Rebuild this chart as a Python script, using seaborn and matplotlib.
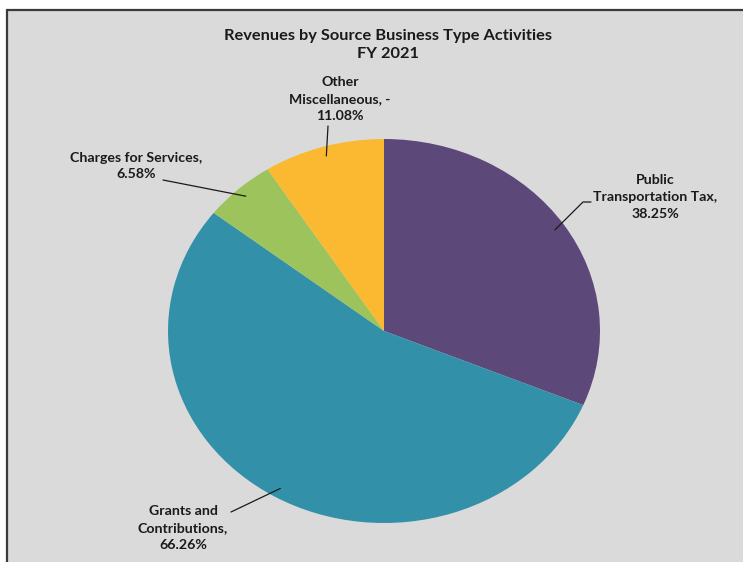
import numpy as np
import matplotlib
matplotlib.use("Agg")
import matplotlib.pyplot as plt
import seaborn as sns
from matplotlib.patches import Rectangle
from matplotlib.lines import Line2D

# Revenue shares by source (percent of total, FY 2021)
categories = ["Public\nTransportation Tax", "Grants and\nContributions",
              "Charges for Services", "Other\nMiscellaneous"]
shares = [38.25, 66.26, 6.58, -11.08]
colors = ["#5c4879", "#3290a9", "#9cc35c", "#fbb932"]

sns.set_theme(style="white")
plt.rcParams["font.family"] = ["Lato", "DejaVu Sans"]

W, H = 743, 562
fig = plt.figure(figsize=(W / 100, H / 100), dpi=100)
fig.patch.set_facecolor("white")


def fpx(x, y):
    """Pixel position (origin top-left) to figure fraction."""
    return x / W, 1 - y / H


# Chart area panel with a dark frame on the top and left
panel = Rectangle(fpx(7, 562), (W - 7) / W, (562 - 10) / H,
                  transform=fig.transFigure, facecolor="#dadada",
                  edgecolor="none", zorder=0)
fig.add_artist(panel)
fig.add_artist(Line2D([7 / W, 7 / W], [1 - 10 / H, 0], transform=fig.transFigure,
                      color="#3a3a3a", lw=1.6, zorder=1))
fig.add_artist(Line2D([7 / W, 1], [1 - 10 / H, 1 - 10 / H], transform=fig.transFigure,
                      color="#3a3a3a", lw=1.6, zorder=1))

# Pie axes (slightly wider than tall)
cx, cy, rx, ry = 384, 331, 216, 192
ax = fig.add_axes([(cx - rx) / W, (H - cy - ry) / H, 2 * rx / W, 2 * ry / H])
sizes = np.abs(shares)
wedges, _ = ax.pie(sizes, colors=colors, startangle=90, counterclock=False,
                   wedgeprops=dict(linewidth=0))
ax.set_aspect("auto")
ax.set_xlim(-1, 1)
ax.set_ylim(-1, 1)
ax.axis("off")
ax.patch.set_alpha(0)

fig.text(*fpx(388, 45), "Revenues by Source Business Type Activities\nFY 2021",
         ha="center", va="center", fontsize=11.8, fontweight="bold",
         color="#1a1a1a", linespacing=1.45)

labels = [f"{c},\n{s:.2f}%" if s >= 0 else f"{c}, -\n{abs(s):.2f}%"
          for c, s in zip(categories, shares)]
label_pos = [(655, 197), (183, 528), (136, 166), (340, 99)]
# leader line anchor points next to each label (pixels)
leader_end = [[(591, 202), (583, 202)], [(231, 512)], [(163, 180)], [(328, 126)]]

inv = fig.transFigure.inverted()
for w, lab, (tx, ty), ends in zip(wedges, labels, label_pos, leader_end):
    fig.text(*fpx(tx, ty), lab, ha="center", va="center", fontsize=10.2,
             fontweight="bold", color="#1a1a1a", linespacing=1.5)
    mid = np.deg2rad((w.theta1 + w.theta2) / 2)
    px, py = inv.transform(ax.transData.transform((0.95 * np.cos(mid), 0.95 * np.sin(mid))))
    pts = [fpx(*e) for e in ends] + [(px, py)]
    xs, ys = zip(*pts)
    fig.add_artist(Line2D(xs, ys, transform=fig.transFigure, color="#1a1a1a", lw=0.9))

fig.savefig("out.png", dpi=100)
